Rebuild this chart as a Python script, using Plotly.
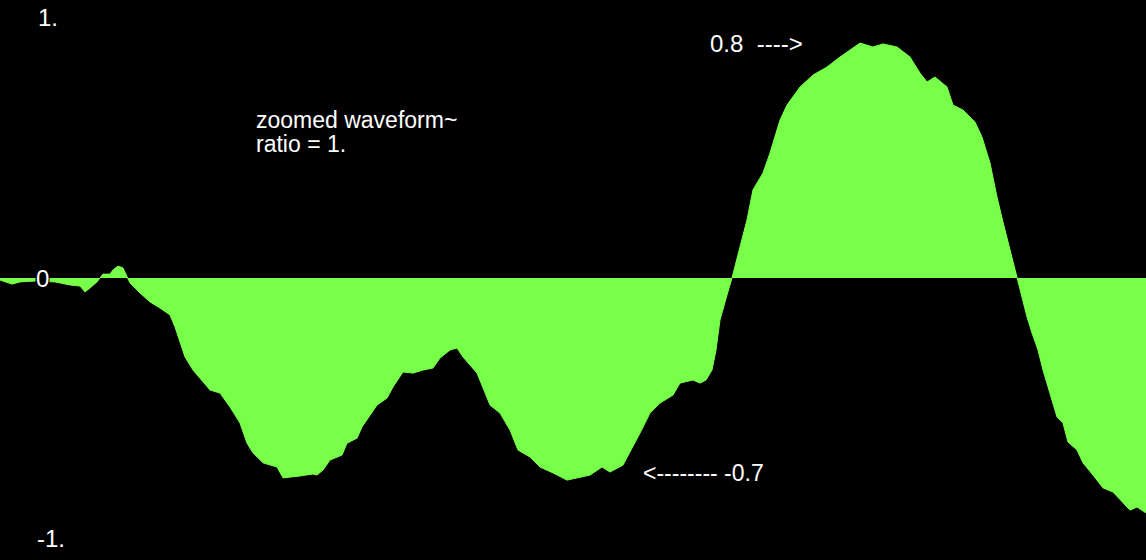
import plotly.graph_objects as go

# sample positions (zoomed window) and amplitude values
sample = [0, 12, 20, 35, 55, 70, 80, 85, 90, 97, 103, 110, 113, 118, 123, 128, 130, 140, 150, 160,
          170, 175, 180, 185, 193, 200, 210, 220, 230, 240, 247, 253, 263, 277, 283, 300, 313, 317,
          323, 330, 342, 347, 357, 362, 367, 377, 387, 393, 403, 413, 423, 433, 440, 450, 457, 463,
          477, 483, 490, 500, 510, 518, 530, 540, 553, 567, 580, 590, 602, 610, 623, 630, 640, 650,
          660, 673, 680, 693, 700, 706, 712, 716, 720, 727, 732, 740, 747, 753, 763, 770, 780, 787,
          800, 813, 827, 840, 853, 860, 873, 883, 897, 910, 920, 927, 935, 947, 953, 963, 975, 982,
          990, 997, 1003, 1010, 1017, 1022, 1027, 1032, 1038, 1043, 1050, 1057, 1063, 1068, 1077,
          1083, 1093, 1103, 1113, 1123, 1130, 1137, 1146]
amplitude = [-0.007, -0.022, -0.014, -0.011, -0.014, -0.025, -0.029, -0.050, -0.036, -0.014, 0.014,
             0.014, 0.029, 0.043, 0.036, 0.0, -0.018, -0.054, -0.086, -0.108, -0.133, -0.176, -0.234,
             -0.284, -0.331, -0.360, -0.403, -0.414, -0.464, -0.522, -0.594, -0.629, -0.665, -0.680,
             -0.719, -0.712, -0.705, -0.709, -0.691, -0.655, -0.637, -0.594, -0.576, -0.536, -0.511,
             -0.457, -0.432, -0.392, -0.338, -0.342, -0.331, -0.324, -0.288, -0.259, -0.252, -0.284,
             -0.342, -0.392, -0.457, -0.486, -0.547, -0.619, -0.644, -0.680, -0.701, -0.727, -0.716,
             -0.709, -0.680, -0.698, -0.673, -0.626, -0.558, -0.486, -0.450, -0.421, -0.378, -0.367,
             -0.378, -0.367, -0.331, -0.259, -0.151, -0.061, 0.0, 0.112, 0.209, 0.317, 0.378, 0.450,
             0.568, 0.622, 0.687, 0.730, 0.759, 0.795, 0.827, 0.845, 0.831, 0.842, 0.831, 0.795,
             0.737, 0.705, 0.723, 0.687, 0.622, 0.604, 0.561, 0.507, 0.414, 0.291, 0.201, 0.101, 0.0,
             -0.079, -0.140, -0.198, -0.259, -0.331, -0.414, -0.500, -0.522, -0.590, -0.619, -0.665,
             -0.709, -0.755, -0.770, -0.806, -0.835, -0.824, -0.845]

GREEN = "#77ff4a"
FONT = "Liberation Sans, Arial, Helvetica, sans-serif"

fig = go.Figure()
fig.add_trace(go.Scatter(
    x=sample, y=amplitude, mode="lines", fill="tozeroy",
    line=dict(color=GREEN, width=1), fillcolor=GREEN, hoverinfo="skip",
))

def ann(text, px, py, size, bg=None):
    d = dict(text=text, xref="paper", yref="paper", x=px / 1146, y=1 - py / 560,
             xanchor="left", yanchor="middle", showarrow=False,
             font=dict(color="white", size=size, family=FONT))
    if bg:
        d.update(bgcolor=bg, borderpad=0)
    fig.add_annotation(**d)

ann("1.", 36, 18, 24)
ann("0", 35, 280, 24, bg="black")
ann("-1.", 35, 542, 24)
ann("zoomed waveform~", 254, 121, 23)
ann("ratio = 1.", 254, 145, 23)
ann("0.8  ---->", 708, 44, 24)
ann("<-------- -0.7", 641, 476, 23)

fig.update_layout(
    width=1146, height=560,
    margin=dict(l=0, r=0, t=0, b=4),
    paper_bgcolor="black", plot_bgcolor="black",
    showlegend=False,
    xaxis=dict(range=[0, 1146], visible=False, fixedrange=True),
    yaxis=dict(range=[-1, 1], visible=False, fixedrange=True),
)

fig.write_html("out.html", config={"displayModeBar": False},
               post_script="document.body.style.margin='0';document.body.style.background='black';")
